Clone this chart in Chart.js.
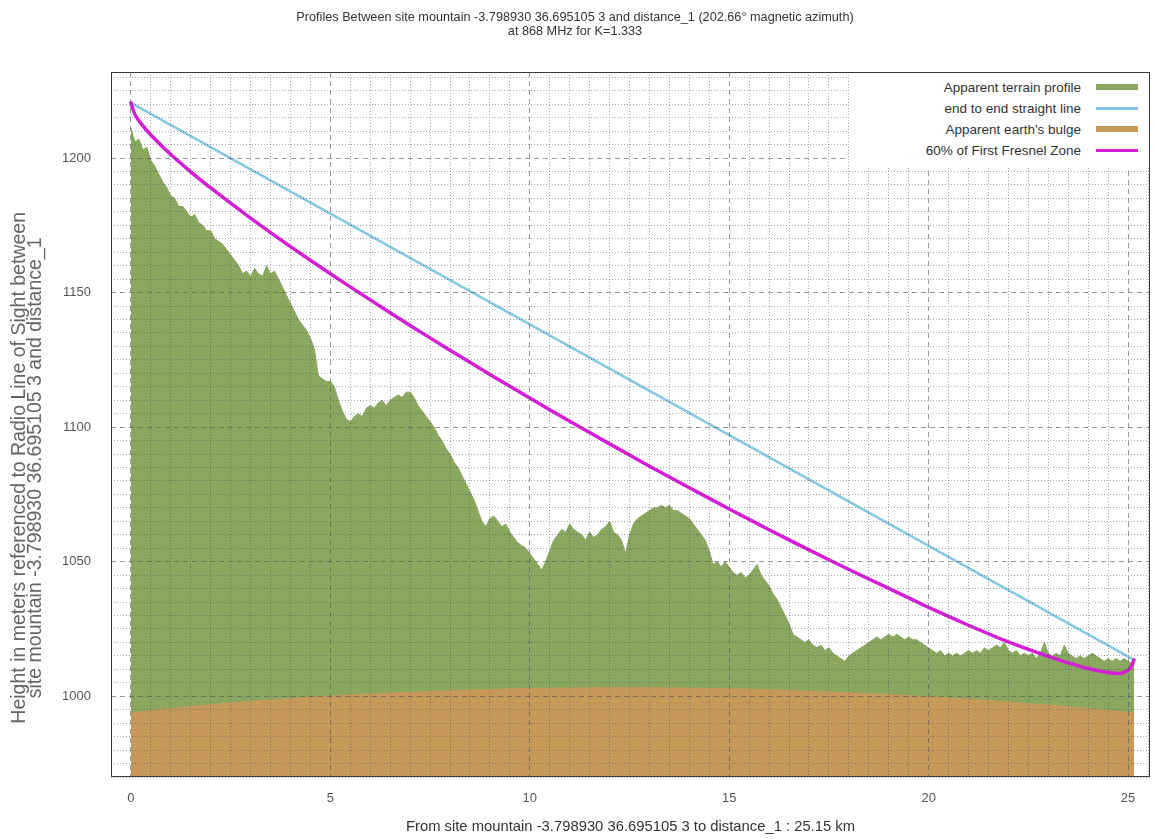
<!DOCTYPE html>
<html>
<head>
<meta charset="utf-8">
<title>Path profile</title>
<script src="https://cdn.jsdelivr.net/npm/chart.js@4.4.1/dist/chart.umd.min.js"></script>
<style>
    html, body { margin: 0; padding: 0; background: #fff; }
    #wrap { position: relative; width: 1155px; height: 839px; }
    #legend {
        position: absolute;
        background: #fff;
        font-family: 'Liberation Sans', Arial, sans-serif;
        font-size: 13.5px;
        color: #333;
        padding: 4px 0 6px 0;
    }
    #legend .row { display: flex; align-items: center; justify-content: flex-end; height: 21px; white-space: nowrap; }
    #legend .swatch { width: 42px; margin-left: 15px; margin-right: 11px; }
</style>
</head>
<body>
<div id="wrap">
    <canvas id="profileChart" width="1155" height="839"></canvas>
    <div id="legend"></div>
</div>
<script>
const FONT = "'Liberation Sans', Arial, sans-serif";

const pathLengthKm = 25.15;
const profileStepKm = 0.1;

// terrain height every 0.1 km (last value at the path end)
const terrainHeights = [
    1211, 1206, 1207, 1203, 1204, 1199, 1197, 1194, 1191, 1189,
    1186, 1185, 1182, 1182, 1180, 1178, 1179, 1176, 1175, 1173,
    1173, 1170, 1169, 1168, 1166, 1164, 1162, 1160, 1157, 1158,
    1156, 1159, 1157, 1156, 1160, 1157, 1158, 1155, 1152, 1149,
    1146, 1143, 1140, 1138, 1136, 1133, 1129, 1119, 1118, 1117,
    1117, 1115, 1110, 1106, 1103, 1102, 1104, 1105, 1104, 1107,
    1108, 1107, 1109, 1110, 1108, 1110, 1111, 1112, 1111, 1113,
    1113, 1111, 1108, 1106, 1104, 1102, 1100, 1097, 1095, 1092,
    1090, 1087, 1085, 1082, 1079, 1076, 1073, 1069, 1065, 1063,
    1066, 1067, 1065, 1063, 1064, 1061, 1059, 1057, 1056, 1055,
    1053, 1051, 1049, 1047, 1050, 1054, 1058, 1060, 1062, 1061,
    1064, 1062, 1061, 1060, 1058, 1061, 1059, 1060, 1062, 1063,
    1065, 1061, 1060, 1058, 1053, 1060, 1064, 1066, 1067, 1068,
    1069, 1070, 1070, 1071, 1070, 1071, 1069, 1069, 1068, 1067,
    1066, 1064, 1062, 1060, 1058, 1054, 1049, 1050, 1048, 1050,
    1048, 1046, 1045, 1046, 1044, 1045, 1047, 1049, 1045, 1043,
    1041, 1038, 1036, 1033, 1030, 1027, 1023, 1022, 1021, 1020,
    1021, 1019, 1018, 1019, 1017, 1018, 1016, 1015, 1014, 1013,
    1015, 1016, 1017, 1018, 1019, 1020, 1021, 1022, 1021, 1022,
    1023, 1022, 1023, 1022, 1021, 1022, 1021, 1021, 1020, 1019,
    1018, 1017, 1016, 1017, 1015, 1016, 1015, 1016, 1015, 1016,
    1017, 1016, 1017, 1016, 1018, 1017, 1018, 1019, 1018, 1020,
    1017, 1016, 1017, 1015, 1016, 1015, 1016, 1014, 1016, 1020,
    1016, 1015, 1016, 1015, 1019, 1016, 1015, 1014, 1015, 1014,
    1015, 1016, 1015, 1014, 1013, 1014, 1013, 1014, 1013, 1014,
    1013, 1012, 1012
];

const losKm = [0, 25.15];
const losHeights = [1220.5, 1013.5];

const bulgeKm = [0, 1.25, 2.5, 3.75, 5, 6.25, 7.5, 8.75, 10, 11.25, 12.5,
    13.75, 15, 16.25, 17.5, 18.75, 20, 21.25, 22.5, 23.75, 25.15];
const bulgeHeights = [993.8, 995.8, 997.5, 998.9, 1000.0, 1001.0, 1001.8, 1002.4, 1002.9, 1003.1, 1003.2,
    1003.1, 1002.8, 1002.3, 1001.6, 1000.8, 999.8, 998.7, 997.3, 995.8, 993.8];

const fresnelKm = [0, 0.1, 0.25, 0.5, 1, 1.5, 2, 3, 4, 5, 6, 7, 8, 9, 10, 11, 12, 13, 14, 15,
    16, 17, 18, 19, 20, 21, 22, 23, 23.5, 24, 24.5, 24.75, 24.9, 25.05, 25.15];
const fresnelHeights = [1220.5, 1216.2, 1212.9, 1208.6, 1201.3, 1194.9, 1188.9, 1177.7, 1167.1, 1157.0,
    1147.3, 1137.8, 1128.6, 1119.6, 1110.8, 1102.2, 1093.8, 1085.5, 1077.5, 1069.6,
    1061.9, 1054.4, 1047.1, 1040.1, 1033.0, 1026.4, 1020.2, 1014.8, 1012.4, 1010.3,
    1008.8, 1008.5, 1008.9, 1010.4, 1013.5];

const xTickLabels = [0, 5, 10, 15, 20, 25];
const yTickLabels = [1000, 1050, 1100, 1150, 1200];

const titleLines = [
    'Profiles Between site mountain -3.798930 36.695105 3 and distance_1 (202.66\u00b0 magnetic azimuth)',
    'at 868 MHz for K=1.333'
];
const xTitle = 'From site mountain -3.798930 36.695105 3 to distance_1 : 25.15 km';
// trailing spaces push the centred label a little down the axis, as in the original
const yTitlePad = ' '.repeat(16);
const yTitle = [
    'Height in meters referenced to Radio Line of Sight between' + yTitlePad,
    'site mountain -3.798930 36.695105 3 and distance_1' + yTitlePad
];

function toPoints(xs, ys) {
    return ys.map((y, i) => ({ x: xs[i], y: y }));
}

const terrainKm = terrainHeights.map((h, i) => Math.min(i * profileStepKm, pathLengthKm));

function isLabelled(value, labels) {
    return labels.some(l => Math.abs(l - value) < 1e-6);
}

function gridColor(labels) {
    return ctx => {
        if (!ctx.tick) return 'rgba(0,0,0,0)';
        return isLabelled(ctx.tick.value, labels) ? 'rgba(85,85,85,0.6)' : 'rgba(60,60,95,0.45)';
    };
}

function gridDash(labels) {
    return ctx => {
        if (!ctx.tick) return [];
        return isLabelled(ctx.tick.value, labels) ? [5, 4] : [1, 2];
    };
}

// html legend, right aligned inside the plot area
const htmlLegend = {
    id: 'htmlLegend',
    afterUpdate(chart) {
        const box = document.getElementById('legend');
        box.innerHTML = '';
        chart.data.datasets.forEach(ds => {
            const row = document.createElement('div');
            row.className = 'row';
            const label = document.createElement('span');
            label.textContent = ds.label;
            const swatch = document.createElement('span');
            swatch.className = 'swatch';
            if (ds.fill) {
                swatch.style.height = '6px';
                swatch.style.background = ds.backgroundColor;
            } else {
                swatch.style.height = '3px';
                swatch.style.background = ds.borderColor;
            }
            row.appendChild(label);
            row.appendChild(swatch);
            box.appendChild(row);
        });
        const area = chart.chartArea;
        box.style.top = (area.top + 1) + 'px';
        box.style.left = (area.right - 301) + 'px';
        box.style.width = '300px';
    }
};

const plotFrame = {
    id: 'plotFrame',
    afterDraw(chart) {
        const { ctx, chartArea: a } = chart;
        ctx.save();
        ctx.strokeStyle = '#3a3a3a';
        ctx.lineWidth = 1;
        ctx.strokeRect(Math.round(a.left) + 0.5, Math.round(a.top) + 0.5,
            Math.round(a.right - a.left) - 1, Math.round(a.bottom - a.top) - 1);
        ctx.restore();
    }
};

const ctx = document.getElementById('profileChart').getContext('2d');

new Chart(ctx, {
    type: 'line',
    data: {
        datasets: [{
            label: 'Apparent terrain profile',
            data: toPoints(terrainKm, terrainHeights),
            borderColor: '#89a75e',
            backgroundColor: '#89a75e',
            borderWidth: 1,
            fill: 'start',
            order: 3
        }, {
            label: 'end to end straight line',
            data: toPoints(losKm, losHeights),
            borderColor: '#86c8e4',
            borderWidth: 2.5,
            fill: false,
            order: 1
        }, {
            label: "Apparent earth's bulge",
            data: toPoints(bulgeKm, bulgeHeights),
            borderColor: '#c69959',
            backgroundColor: '#c69959',
            borderWidth: 1,
            fill: 'start',
            tension: 0.3,
            order: 2
        }, {
            label: '60% of First Fresnel Zone',
            data: toPoints(fresnelKm, fresnelHeights),
            borderColor: '#d61ed6',
            borderWidth: 3.5,
            fill: false,
            tension: 0.2,
            order: 0
        }]
    },
    options: {
        responsive: false,
        animation: false,
        devicePixelRatio: 1,
        layout: { padding: { left: 0, right: 5, top: 0, bottom: 0 } },
        elements: {
            point: { radius: 0 },
            line: { borderCapStyle: 'round', borderJoinStyle: 'round' }
        },
        plugins: {
            legend: { display: false },
            tooltip: { enabled: false },
            title: {
                display: true,
                text: titleLines,
                color: '#333',
                font: { family: FONT, size: 12.7, weight: 'normal', lineHeight: 1.18 },
                padding: { top: 9.5, bottom: 32.5 }
            }
        },
        scales: {
            x: {
                type: 'linear',
                min: -0.5,
                max: 25.55,
                afterFit: scale => {
                    scale.height = 62;
                    scale.paddingLeft = 0;
                    scale.paddingRight = 0;
                },
                ticks: {
                    stepSize: 0.5,
                    autoSkip: false,
                    includeBounds: false,
                    maxRotation: 0,
                    minRotation: 0,
                    padding: 14,
                    color: '#555',
                    font: { family: FONT, size: 13 },
                    callback: v => isLabelled(v, xTickLabels) ? String(v) : ''
                },
                grid: { color: gridColor(xTickLabels), lineWidth: 1, drawTicks: false, z: 1 },
                border: { display: false, dash: gridDash(xTickLabels) },
                title: {
                    display: true,
                    text: xTitle,
                    color: '#333',
                    font: { family: FONT, size: 14.8, lineHeight: 1.2 },
                    padding: { top: 0, bottom: 3 }
                }
            },
            y: {
                min: 970,
                max: 1232,
                afterFit: scale => { scale.width = 111; },
                ticks: {
                    stepSize: 5,
                    autoSkip: false,
                    includeBounds: false,
                    padding: 20,
                    color: '#555',
                    font: { family: FONT, size: 13 },
                    callback: v => isLabelled(v, yTickLabels) ? String(v) : ''
                },
                grid: { color: gridColor(yTickLabels), lineWidth: 1, drawTicks: false, z: 1 },
                border: { display: false, dash: gridDash(yTickLabels) },
                title: {
                    display: true,
                    text: yTitle,
                    color: '#666',
                    font: { family: FONT, size: 19.5, lineHeight: 0.78 },
                    padding: { top: 12.5, bottom: 0 }
                }
            }
        }
    },
    plugins: [htmlLegend, plotFrame]
});
</script>
</body>
</html>
